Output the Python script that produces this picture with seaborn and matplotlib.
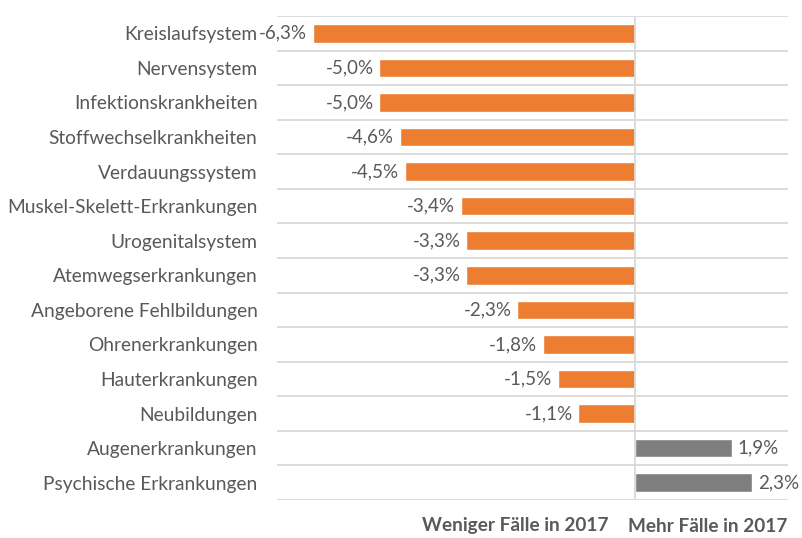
import matplotlib
matplotlib.use("Agg")
import matplotlib.pyplot as plt
import seaborn as sns
import pandas as pd

categories = [
    "Kreislaufsystem", "Nervensystem", "Infektionskrankheiten",
    "Stoffwechselkrankheiten", "Verdauungssystem", "Muskel-Skelett-Erkrankungen",
    "Urogenitalsystem", "Atemwegserkrankungen", "Angeborene Fehlbildungen",
    "Ohrenerkrankungen", "Hauterkrankungen", "Neubildungen",
    "Augenerkrankungen", "Psychische Erkrankungen",
]
changes = [-6.3, -5.0, -5.0, -4.6, -4.5, -3.4, -3.3, -3.3, -2.3, -1.8, -1.5, -1.1, 1.9, 2.3]

df = pd.DataFrame({"kat": categories, "wert": changes})
df["seite"] = ["neg" if v < 0 else "pos" for v in changes]

sns.set_style("white")
plt.rcParams["font.family"] = ["Lato", "DejaVu Sans"]
text_col = "#595959"

fig = plt.figure(figsize=(8.02, 5.38), dpi=100)
ax = fig.add_axes([0.3454, 0.0706, 0.637, 0.8997])

sns.barplot(data=df, x="wert", y="kat", hue="seite", orient="h",
            palette={"neg": "#ED7D31", "pos": "#7F7F7F"}, width=0.54,
            saturation=1, dodge=False, legend=False, ax=ax)

for cont in ax.containers:
    vals = [b.get_width() for b in cont]
    ax.bar_label(cont, labels=[f"{v:.1f}%".replace(".", ",") for v in vals],
                 padding=4, color=text_col, fontsize=13.5)

ax.set_xlim(-7, 3)
ax.set_ylim(len(categories) - 0.5, -0.5)
ax.set_xticks([])
ax.set_yticks(range(len(categories)), categories)
ax.set_yticks([i - 0.5 for i in range(len(categories) + 1)], minor=True)
ax.tick_params(axis="y", which="major", length=0, pad=14, labelsize=13.8, labelcolor=text_col)
ax.tick_params(axis="y", which="minor", length=0)
ax.grid(axis="y", which="minor", color="#D9D9D9", linewidth=1.3)
ax.axvline(0, color="#D9D9D9", linewidth=1.3)
ax.set_xlabel("")
ax.set_ylabel("")
for s in ax.spines.values():
    s.set_visible(False)

fig.text(515 / 802, 1 - 526 / 538, "Weniger Fälle in 2017", ha="center", va="center",
         fontsize=13.7, fontweight="bold", color=text_col)
fig.text(708 / 802, 1 - 526 / 538, "Mehr Fälle in 2017", ha="center", va="center",
         fontsize=13.7, fontweight="bold", color=text_col)

fig.savefig("out.png", dpi=100)
